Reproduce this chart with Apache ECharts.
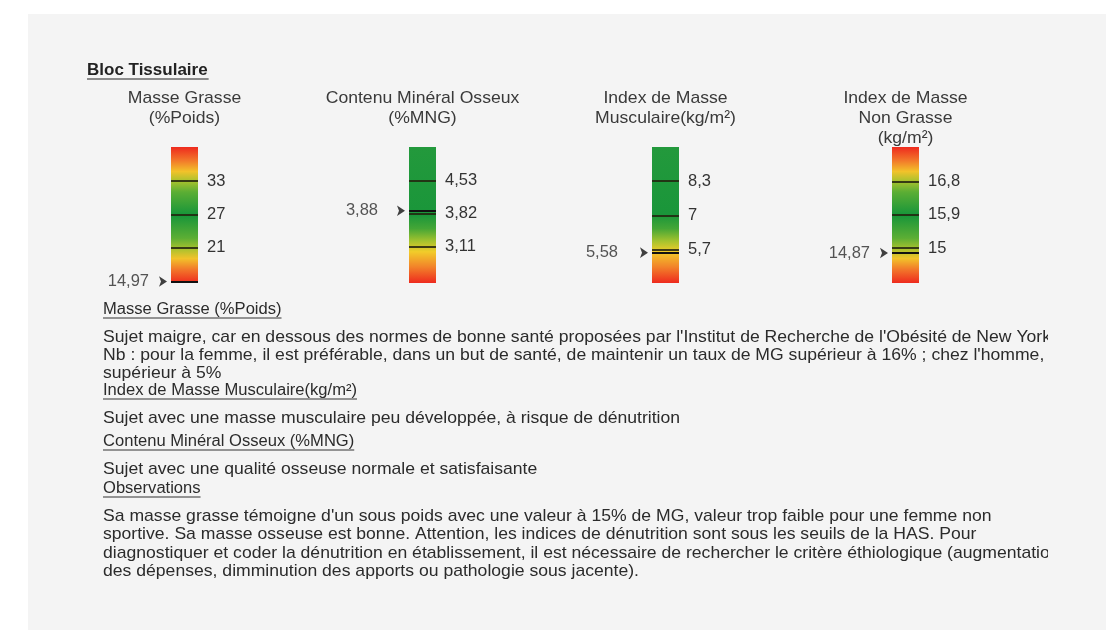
<!DOCTYPE html>
<html>
<head>
<meta charset="utf-8">
<script src="https://cdn.jsdelivr.net/npm/echarts@6/dist/echarts.min.js"></script>
<style>
  html, body { margin: 0; padding: 0; background: #fff; }
  #chart { width: 1106px; height: 630px; }
</style>
</head>
<body>
<div id="chart"></div>
<script>
// gauge data
const titles = [
  ["Masse Grasse", "(%Poids)"],
  ["Contenu Minéral Osseux", "(%MNG)"],
  ["Index de Masse", "Musculaire(kg/m²)"],
  ["Index de Masse", "Non Grasse", "(kg/m²)"],
];
const ticks = [
  [33, 27, 21],
  [4.53, 3.82, 3.11],
  [8.3, 7, 5.7],
  [16.8, 15.9, 15],
];
const scaleMin = [14.7, 2.34, 4.43, 14.06];
const scaleMax = [39.1, 5.24, 9.59, 17.73];
const measured = [14.97, 3.88, 5.58, 14.87];

// layout / styles
const FONT = '"Liberation Sans", Arial, sans-serif';
const STRETCH = 1.035; // scan is slightly wider than the font
const barLeft = [171, 409, 652, 892];
const barW = 27;
const barTop = 147;
const barH = 136;
const markerGap = [10, 19, 22, 10];

const both = [
  [0, "#ee2a1e"], [0.1, "#f2782a"], [0.18, "#f2c22a"], [0.25, "#a9c22e"],
  [0.33, "#5cae34"], [0.5, "#16953a"], [0.67, "#5cae34"], [0.75, "#a9c22e"],
  [0.82, "#f2c22a"], [0.9, "#f2782a"], [1, "#ee2a1e"],
];
const low = [
  [0, "#23993c"], [0.5, "#1a963a"], [0.6, "#45a636"], [0.69, "#a2c22e"],
  [0.77, "#f2cc2a"], [0.88, "#f2842a"], [1, "#ee2a1e"],
];
const palettes = [both, low, low, both];

const fmt = (v) => String(v).replace(".", ",");

// text block
const notes = [
  { t: "Masse Grasse (%Poids)", y: 310, u: true },
  { t: "Sujet maigre, car en dessous des normes de bonne santé proposées par l'Institut de Recherche de l'Obésité de New York.", y: 337 },
  { t: "Nb : pour la femme, il est préférable, dans un but de santé, de maintenir un taux de MG supérieur à 16% ; chez l'homme,", y: 355 },
  { t: "supérieur à 5%", y: 373 },
  { t: "Index de Masse Musculaire(kg/m²)", y: 391, u: true },
  { t: "Sujet avec une masse musculaire peu développée, à risque de dénutrition", y: 418 },
  { t: "Contenu Minéral Osseux (%MNG)", y: 442, u: true },
  { t: "Sujet avec une qualité osseuse normale et satisfaisante", y: 469 },
  { t: "Observations", y: 489, u: true },
  { t: "Sa masse grasse témoigne d'un sous poids avec une valeur à 15% de MG, valeur trop faible pour une femme non", y: 516 },
  { t: "sportive. Sa masse osseuse est bonne. Attention, les indices de dénutrition sont sous les seuils de la HAS. Pour", y: 534.5 },
  { t: "diagnostiquer et coder la dénutrition en établissement, il est nécessaire de rechercher le critère éthiologique (augmentation", y: 553 },
  { t: "des dépenses, dimminution des apports ou pathologie sous jacente).", y: 571.5 },
];

const ctx = document.createElement("canvas").getContext("2d");
function textWidth(t, font) {
  ctx.font = font;
  return ctx.measureText(t).width;
}

const graphic = [
  { type: "rect", z: -10, shape: { x: 28, y: 14, width: 1078, height: 616 }, style: { fill: "#f4f4f4" } },
];
const headFont = "bold 17px " + FONT;
graphic.push({
  type: "text", x: 87, y: 70,
  style: { text: "Bloc Tissulaire", font: headFont, fill: "#222", verticalAlign: "middle" },
});
graphic.push({
  type: "line", shape: { x1: 87, y1: 79, x2: 88 + textWidth("Bloc Tissulaire", headFont), y2: 79 },
  style: { stroke: "#222", lineWidth: 1.2 },
});
const titleFont = "17px " + FONT;
titles.forEach((lines, i) => {
  lines.forEach((t, k) => {
    graphic.push({
      type: "text", x: barLeft[i] + barW / 2, y: 98 + k * 20, scaleX: STRETCH,
      style: { text: t, font: titleFont, fill: "#3a3a3a", align: "center", verticalAlign: "middle" },
    });
  });
});
const bodyFont = "17px " + FONT;
const underFont = "16px " + FONT;
notes.forEach((n) => {
  const font = n.u ? underFont : bodyFont;
  graphic.push({
    type: "text", x: 103, y: n.y, scaleX: STRETCH,
    style: { text: n.t, font, fill: "#2b2b2b", verticalAlign: "middle" },
  });
  if (n.u) {
    graphic.push({
      type: "line",
      shape: { x1: 103, y1: n.y + 8, x2: 103 + textWidth(n.t, font) * STRETCH, y2: n.y + 8 },
      style: { stroke: "#333", lineWidth: 1 },
    });
  }
});
// page edge cuts the long lines
graphic.push({ type: "rect", z: 10, shape: { x: 1048, y: 320, width: 58, height: 250 }, style: { fill: "#f4f4f4" } });

const grid = [], xAxis = [], yAxis = [], series = [];
ticks.forEach((tk, i) => {
  grid.push({ left: barLeft[i], top: barTop, width: barW, height: barH });
  xAxis.push({ type: "category", gridIndex: i, data: [""], show: false });
  yAxis.push({ type: "value", gridIndex: i, min: scaleMin[i], max: scaleMax[i], show: false });
  series.push({
    type: "bar", xAxisIndex: i, yAxisIndex: i, stack: "g" + i, silent: true,
    barWidth: "100%", data: [scaleMin[i]], itemStyle: { color: "rgba(0,0,0,0)" },
  });
  series.push({
    type: "bar", xAxisIndex: i, yAxisIndex: i, stack: "g" + i, silent: true,
    barWidth: "100%", data: [scaleMax[i] - scaleMin[i]],
    itemStyle: {
      color: new echarts.graphic.LinearGradient(0, 0, 0, 1,
        palettes[i].map(([offset, color]) => ({ offset, color }))),
    },
    markLine: {
      silent: true, symbol: "none",
      lineStyle: { color: "rgba(35,35,15,0.85)", width: 2, type: "solid" },
      label: {
        position: "end", distance: 9, color: "#333", fontSize: 16.5, fontFamily: FONT,
        formatter: (p) => fmt(p.value),
      },
      data: tk.map((v) => ({ yAxis: v })),
    },
  });
  series.push({
    type: "scatter", xAxisIndex: i, yAxisIndex: i, silent: true, z: 5,
    data: [measured[i]],
    symbol: "arrow", symbolSize: [8, 8], symbolRotate: -90,
    symbolOffset: [-(barW / 2) - 4, 0],
    itemStyle: { color: "#111" },
    label: {
      show: true, position: "left", distance: markerGap[i],
      color: "#2b2b2b", fontSize: 16.5, fontFamily: FONT,
      formatter: () => fmt(measured[i]),
    },
    markLine: {
      silent: true, symbol: "none",
      lineStyle: { color: "#111", width: 2, type: "solid" },
      label: { show: false },
      data: [{ yAxis: measured[i] }],
    },
  });
});

const chart = echarts.init(document.getElementById("chart"));
chart.setOption({
  animation: false,
  backgroundColor: "#ffffff",
  textStyle: { fontFamily: FONT },
  graphic,
  grid,
  xAxis,
  yAxis,
  series,
});
</script>
</body>
</html>
